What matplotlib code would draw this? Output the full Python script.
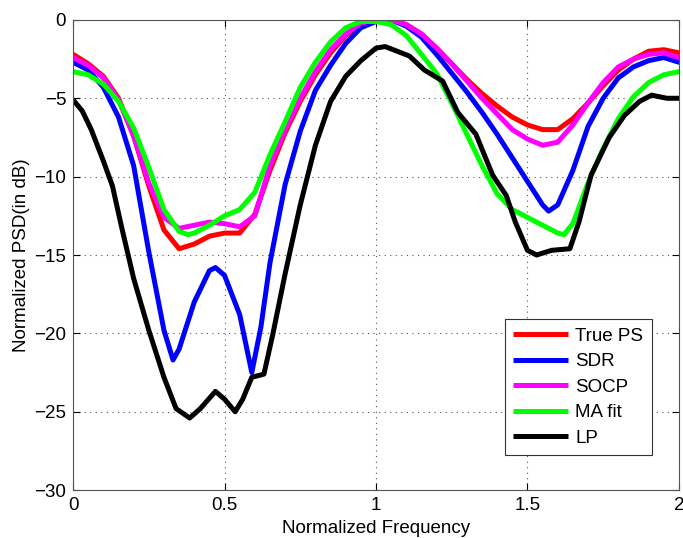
import numpy as np
import matplotlib
matplotlib.use('Agg')
import matplotlib.pyplot as plt

plt.rcParams['font.family'] = ['Liberation Sans', 'DejaVu Sans']

# True PS
f_true = [0, 0.05, 0.1, 0.15, 0.2, 0.25, 0.3, 0.35, 0.4, 0.45, 0.5, 0.55, 0.6, 0.65, 0.7,
          0.75, 0.8, 0.85, 0.9, 0.95, 1.0, 1.05, 1.1, 1.15, 1.2, 1.25, 1.3, 1.35, 1.4, 1.45,
          1.5, 1.55, 1.6, 1.65, 1.7, 1.75, 1.8, 1.85, 1.9, 1.95, 2.0]
psd_true = [-2.2, -2.8, -3.6, -5.0, -7.4, -10.6, -13.4, -14.6, -14.3, -13.8, -13.6, -13.6, -12.4,
            -9.6, -7.2, -5.2, -3.5, -2.1, -1.0, -0.3, 0, 0, -0.3, -0.9, -1.8, -2.8, -3.8, -4.7,
            -5.5, -6.2, -6.7, -7.0, -7.0, -6.3, -5.3, -4.2, -3.2, -2.5, -2.0, -1.9, -2.1]

# SDR
f_sdr = [0, 0.05, 0.1, 0.15, 0.2, 0.25, 0.3, 0.33, 0.35, 0.4, 0.45, 0.47, 0.5, 0.55, 0.59,
         0.62, 0.65, 0.7, 0.75, 0.8, 0.85, 0.9, 0.95, 1.0, 1.05, 1.1, 1.15, 1.2, 1.25, 1.3,
         1.35, 1.4, 1.45, 1.5, 1.55, 1.57, 1.6, 1.65, 1.7, 1.75, 1.8, 1.85, 1.9, 1.95, 2.0]
psd_sdr = [-2.7, -3.2, -4.3, -6.2, -9.3, -14.8, -19.8, -21.7, -21.0, -18.0, -16.0, -15.8, -16.3,
           -18.8, -22.5, -19.6, -15.5, -10.5, -7.1, -4.5, -2.9, -1.5, -0.5, -0.1, 0, -0.4,
           -1.1, -2.2, -3.4, -4.6, -5.9, -7.3, -8.8, -10.3, -11.8, -12.2, -11.8, -9.6, -6.8,
           -5.0, -3.7, -3.0, -2.6, -2.4, -2.7]

# SOCP
f_socp = f_true
psd_socp = [-2.4, -2.9, -3.7, -5.1, -7.4, -10.4, -12.6, -13.3, -13.1, -12.9, -13.0, -13.2, -12.5,
            -9.3, -7.0, -5.0, -3.3, -1.9, -0.9, -0.2, 0, 0, -0.3, -0.9, -1.8, -2.8, -3.9, -5.0,
            -6.0, -7.0, -7.6, -8.0, -7.8, -6.7, -5.3, -4.0, -3.0, -2.5, -2.2, -2.1, -2.4]

# MA fit
f_ma = [0, 0.05, 0.1, 0.15, 0.2, 0.25, 0.3, 0.35, 0.38, 0.4, 0.45, 0.5, 0.55, 0.6, 0.65, 0.7,
        0.75, 0.8, 0.85, 0.9, 0.95, 1.0, 1.05, 1.1, 1.15, 1.2, 1.25, 1.3, 1.35, 1.4, 1.45,
        1.5, 1.55, 1.6, 1.62, 1.65, 1.7, 1.75, 1.8, 1.85, 1.9, 1.95, 2.0]
psd_ma = [-3.3, -3.5, -4.1, -5.2, -6.9, -9.4, -12.1, -13.5, -13.7, -13.6, -13.1, -12.5, -12.1,
          -11.0, -8.6, -6.5, -4.3, -2.7, -1.4, -0.5, -0.1, -0.1, -0.3, -1.0, -2.2, -3.4, -5.3,
          -7.3, -9.3, -11.1, -12.1, -12.6, -13.1, -13.6, -13.7, -13.0, -10.4, -8.2, -6.3,
          -4.9, -4.0, -3.5, -3.3]

# LP
f_lp = [0, 0.03, 0.06, 0.1, 0.13, 0.16, 0.2, 0.25, 0.3, 0.34, 0.385, 0.42, 0.47, 0.5, 0.535,
        0.56, 0.59, 0.63, 0.66, 0.7, 0.75, 0.8, 0.85, 0.9, 0.95, 1.0, 1.03, 1.07, 1.11, 1.16,
        1.22, 1.27, 1.33, 1.385, 1.43, 1.46, 1.5, 1.53, 1.58, 1.64, 1.67, 1.71, 1.77, 1.82,
        1.87, 1.91, 1.96, 2.0]
psd_lp = [-5.1, -5.8, -7.0, -9.0, -10.6, -13.2, -16.5, -19.8, -22.8, -24.8, -25.4, -24.8, -23.7,
          -24.2, -25.0, -24.2, -22.8, -22.6, -20.0, -16.2, -11.8, -8.0, -5.2, -3.6, -2.6, -1.8,
          -1.7, -2.0, -2.3, -3.2, -3.9, -5.9, -7.3, -9.9, -11.2, -12.9, -14.7, -15.0, -14.7,
          -14.6, -12.9, -9.9, -7.5, -6.1, -5.2, -4.8, -5.0, -5.0]

fig = plt.figure(figsize=(6.83, 5.38), dpi=100)
ax = fig.add_axes([0.107, 0.089, 0.887, 0.874])

lw = 3.6
kw = dict(lw=lw, solid_joinstyle='round', solid_capstyle='round')
ax.plot(f_true, psd_true, color='#ff0000', label='True PS', **kw)
ax.plot(f_sdr, psd_sdr, color='#0000ff', label='SDR', **kw)
ax.plot(f_socp, psd_socp, color='#ff00ff', label='SOCP', **kw)
ax.plot(f_ma, psd_ma, color='#00ff00', label='MA fit', **kw)
ax.plot(f_lp, psd_lp, color='#000000', label='LP', **kw)

ax.set_xlim(0, 2)
ax.set_ylim(-30, 0)
ax.set_xticks([0, 0.5, 1, 1.5, 2])
ax.set_xticklabels(['0', '0.5', '1', '1.5', '2'])
ax.set_yticks([-30, -25, -20, -15, -10, -5, 0])
ax.set_yticklabels(['\u221230', '\u221225', '\u221220', '\u221215', '\u221210', '\u22125', '0'])
ax.grid(True, linestyle=(0, (1, 4)), color='#555555', linewidth=0.8)
ax.tick_params(direction='in', top=True, right=True, labelsize=13.5, length=5, pad=5)
for s in ax.spines.values():
    s.set_color('#555555')

ax.set_xlabel('Normalized Frequency', fontsize=13.5, labelpad=4)
ax.set_ylabel('Normalized PSD(in dB)', fontsize=13.5, labelpad=3)

leg = ax.legend(loc='lower right', bbox_to_anchor=(0.955, 0.074), borderaxespad=0,
                fontsize=13.5, fancybox=False, framealpha=1, edgecolor='#333333',
                handlelength=2.9, labelspacing=0.45, borderpad=0.45, handletextpad=0.4)
leg.get_frame().set_linewidth(0.8)
for h in leg.get_lines():
    h.set_solid_capstyle('butt')

fig.savefig('out.png', dpi=100)
